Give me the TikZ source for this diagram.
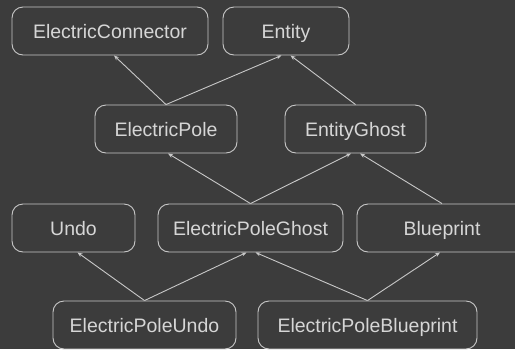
\documentclass[tikz,border=0pt]{standalone}
\usepackage{fontspec}
\setmainfont{Liberation Sans}
\usetikzlibrary{positioning, arrows.meta}
\definecolor{bgdark}{RGB}{60,60,60}
\definecolor{linegray}{RGB}{200,200,200}
\definecolor{textgray}{RGB}{214,214,214}

\begin{document}
\begin{tikzpicture} [x=1pt, y=-1pt,
  cls/.style={rectangle, rounded corners=11pt, draw=linegray, line width=0.9pt, minimum height=48pt, inner sep=0pt, text height=17pt, text depth=2pt, text=textgray, font=\fontsize{19.5}{22}\selectfont},
  inh/.style={draw=linegray, line width=0.9pt, -{Stealth[length=5pt, width=4pt, fill=white]}}]
  \useasboundingbox (0,0) rectangle (515,349);
  \fill[bgdark] (0,0) rectangle (515,349);
  \clip (0,0) rectangle (515,349);

  \draw (110,31)    node[cls, minimum width=196pt](conn)   {ElectricConnector};
  \draw (286,31)    node[cls, minimum width=126pt](entity) {Entity};
  \draw (166,129)   node[cls, minimum width=142pt](epole)  {ElectricPole};
  \draw (355.5,129) node[cls, minimum width=141pt](eghost) {EntityGhost};
  \draw (73.5,228)  node[cls, minimum width=123pt](undo)   {Undo};
  \draw (250.5,228) node[cls, minimum width=185pt](epghost) {ElectricPoleGhost};
  \draw (442,228)   node[cls, minimum width=170pt](bprint) {Blueprint};
  \draw (144.5,325) node[cls, minimum width=183pt](epundo) {ElectricPoleUndo};
  \draw (367.5,325) node[cls, minimum width=219pt](epbprint) {ElectricPoleBlueprint};

\path (epole.north)    edge[inh] ([xshift=4pt]conn.south)
                       edge[inh] ([xshift=-4.5pt]entity.south)
      (eghost.north)   edge[inh] ([xshift=4.5pt]entity.south)
      (epghost.north)  edge[inh] ([xshift=2pt]epole.south)
                       edge[inh] ([xshift=-4.5pt]eghost.south)
      (bprint.north)   edge[inh] ([xshift=4.5pt]eghost.south)
      (epundo.north)   edge[inh] ([xshift=4pt]undo.south)
                       edge[inh] ([xshift=-4pt]epghost.south)
      (epbprint.north) edge[inh] ([xshift=5pt]epghost.south)
                       edge[inh] ([xshift=-2pt]bprint.south);
\end{tikzpicture}
\end{document}
